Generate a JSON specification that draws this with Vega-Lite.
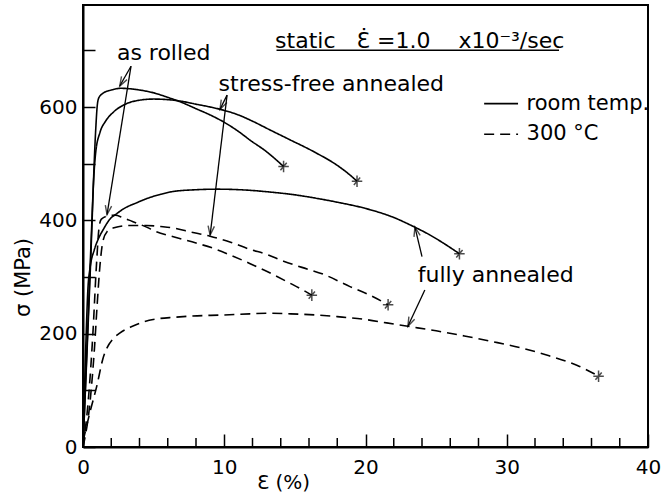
{
  "$schema": "https://vega.github.io/schema/vega-lite/v6.json",
  "width": 565,
  "height": 442,
  "autosize": {"type": "none"},
  "padding": {"left": 83, "top": 5, "right": 16, "bottom": 49},
  "background": "white",
  "config": {
    "view": {"stroke": "black", "strokeWidth": 2},
    "font": "DejaVu Sans",
    "axis": {
      "domainColor": "black", "domainWidth": 2, "tickColor": "black", "tickWidth": 1.5,
      "labelColor": "black", "labelFont": "DejaVu Sans", "labelFontSize": 20,
      "titleFont": "DejaVu Sans", "titleFontSize": 20, "titleFontWeight": "normal", "titleColor": "black",
      "grid": false, "labelOverlap": false, "labelFlush": false
    }
  },
  "datasets": {
    "curves": [
      {"c":"AR_RT","t":"RT","x":0,"y":0},{"c":"AR_RT","t":"RT","x":0.5,"y":300},{"c":"AR_RT","t":"RT","x":0.9,"y":560},{"c":"AR_RT","t":"RT","x":1.0,"y":600},{"c":"AR_RT","t":"RT","x":1.1,"y":615},{"c":"AR_RT","t":"RT","x":1.4,"y":624},{"c":"AR_RT","t":"RT","x":2.0,"y":630},{"c":"AR_RT","t":"RT","x":2.7,"y":633},{"c":"AR_RT","t":"RT","x":4,"y":630},{"c":"AR_RT","t":"RT","x":5,"y":625},{"c":"AR_RT","t":"RT","x":6,"y":617},{"c":"AR_RT","t":"RT","x":7,"y":608},{"c":"AR_RT","t":"RT","x":8,"y":597},{"c":"AR_RT","t":"RT","x":9,"y":586},{"c":"AR_RT","t":"RT","x":10,"y":573},{"c":"AR_RT","t":"RT","x":11,"y":557},{"c":"AR_RT","t":"RT","x":11.8,"y":542},{"c":"AR_RT","t":"RT","x":13,"y":521},{"c":"AR_RT","t":"RT","x":14.2,"y":495},
      {"c":"SFA_RT","t":"RT","x":0,"y":0},{"c":"SFA_RT","t":"RT","x":0.4,"y":250},{"c":"SFA_RT","t":"RT","x":0.6,"y":380},{"c":"SFA_RT","t":"RT","x":0.75,"y":470},{"c":"SFA_RT","t":"RT","x":0.9,"y":520},{"c":"SFA_RT","t":"RT","x":1.2,"y":555},{"c":"SFA_RT","t":"RT","x":1.6,"y":575},{"c":"SFA_RT","t":"RT","x":2.2,"y":592},{"c":"SFA_RT","t":"RT","x":3,"y":605},{"c":"SFA_RT","t":"RT","x":4,"y":612},{"c":"SFA_RT","t":"RT","x":5,"y":614},{"c":"SFA_RT","t":"RT","x":6,"y":613},{"c":"SFA_RT","t":"RT","x":7,"y":610},{"c":"SFA_RT","t":"RT","x":8,"y":605},{"c":"SFA_RT","t":"RT","x":9,"y":600},{"c":"SFA_RT","t":"RT","x":10,"y":594},{"c":"SFA_RT","t":"RT","x":11,"y":586},{"c":"SFA_RT","t":"RT","x":12,"y":575},{"c":"SFA_RT","t":"RT","x":13.2,"y":560},{"c":"SFA_RT","t":"RT","x":14.5,"y":544},{"c":"SFA_RT","t":"RT","x":16.5,"y":519},{"c":"SFA_RT","t":"RT","x":18,"y":497},{"c":"SFA_RT","t":"RT","x":18.9,"y":480},{"c":"SFA_RT","t":"RT","x":19.4,"y":469},
      {"c":"FA_RT","t":"RT","x":0,"y":0},{"c":"FA_RT","t":"RT","x":0.2,"y":180},{"c":"FA_RT","t":"RT","x":0.35,"y":280},{"c":"FA_RT","t":"RT","x":0.5,"y":316},{"c":"FA_RT","t":"RT","x":0.8,"y":348},{"c":"FA_RT","t":"RT","x":1.1,"y":368},{"c":"FA_RT","t":"RT","x":1.44,"y":384},{"c":"FA_RT","t":"RT","x":1.9,"y":402},{"c":"FA_RT","t":"RT","x":2.4,"y":412},{"c":"FA_RT","t":"RT","x":2.85,"y":420},{"c":"FA_RT","t":"RT","x":3.8,"y":431},{"c":"FA_RT","t":"RT","x":4.7,"y":440},{"c":"FA_RT","t":"RT","x":5.5,"y":446},{"c":"FA_RT","t":"RT","x":6.4,"y":451},{"c":"FA_RT","t":"RT","x":8,"y":454},{"c":"FA_RT","t":"RT","x":9.5,"y":455},{"c":"FA_RT","t":"RT","x":11.8,"y":453},{"c":"FA_RT","t":"RT","x":13.2,"y":450},{"c":"FA_RT","t":"RT","x":15,"y":445},{"c":"FA_RT","t":"RT","x":16.5,"y":439},{"c":"FA_RT","t":"RT","x":18,"y":432},{"c":"FA_RT","t":"RT","x":20,"y":421},{"c":"FA_RT","t":"RT","x":22,"y":405},{"c":"FA_RT","t":"RT","x":23.4,"y":389},{"c":"FA_RT","t":"RT","x":24.5,"y":375},{"c":"FA_RT","t":"RT","x":25.5,"y":360},{"c":"FA_RT","t":"RT","x":26.65,"y":341},
      {"c":"AR_300","t":"300","x":0,"y":0},{"c":"AR_300","t":"300","x":0.4,"y":90},{"c":"AR_300","t":"300","x":0.7,"y":200},{"c":"AR_300","t":"300","x":0.95,"y":320},{"c":"AR_300","t":"300","x":1.15,"y":390},{"c":"AR_300","t":"300","x":1.3,"y":402},{"c":"AR_300","t":"300","x":1.8,"y":408},{"c":"AR_300","t":"300","x":2.3,"y":409},{"c":"AR_300","t":"300","x":2.8,"y":405},{"c":"AR_300","t":"300","x":3.5,"y":398},{"c":"AR_300","t":"300","x":4.5,"y":388},{"c":"AR_300","t":"300","x":5.2,"y":380},{"c":"AR_300","t":"300","x":6.4,"y":371},{"c":"AR_300","t":"300","x":8,"y":360},{"c":"AR_300","t":"300","x":9.3,"y":350},{"c":"AR_300","t":"300","x":10.5,"y":338},{"c":"AR_300","t":"300","x":11.8,"y":324},{"c":"AR_300","t":"300","x":13,"y":310},{"c":"AR_300","t":"300","x":14.66,"y":289},{"c":"AR_300","t":"300","x":15.5,"y":278},{"c":"AR_300","t":"300","x":16.2,"y":268},
      {"c":"SFA_300","t":"300","x":0,"y":0},{"c":"SFA_300","t":"300","x":0.5,"y":80},{"c":"SFA_300","t":"300","x":0.8,"y":170},{"c":"SFA_300","t":"300","x":1.0,"y":250},{"c":"SFA_300","t":"300","x":1.2,"y":320},{"c":"SFA_300","t":"300","x":1.4,"y":362},{"c":"SFA_300","t":"300","x":1.7,"y":380},{"c":"SFA_300","t":"300","x":2.2,"y":387},{"c":"SFA_300","t":"300","x":3.3,"y":391},{"c":"SFA_300","t":"300","x":4.5,"y":391},{"c":"SFA_300","t":"300","x":5.5,"y":389},{"c":"SFA_300","t":"300","x":6.5,"y":386},{"c":"SFA_300","t":"300","x":7.5,"y":380},{"c":"SFA_300","t":"300","x":9,"y":372},{"c":"SFA_300","t":"300","x":10.5,"y":361},{"c":"SFA_300","t":"300","x":11.8,"y":349},{"c":"SFA_300","t":"300","x":13,"y":340},{"c":"SFA_300","t":"300","x":14.2,"y":328},{"c":"SFA_300","t":"300","x":15.5,"y":317},{"c":"SFA_300","t":"300","x":17,"y":305},{"c":"SFA_300","t":"300","x":18.9,"y":283},{"c":"SFA_300","t":"300","x":20.3,"y":268},{"c":"SFA_300","t":"300","x":21.6,"y":251},
      {"c":"FA_300","t":"300","x":0,"y":10},{"c":"FA_300","t":"300","x":0.5,"y":62},{"c":"FA_300","t":"300","x":1.0,"y":110},{"c":"FA_300","t":"300","x":1.4,"y":155},{"c":"FA_300","t":"300","x":1.7,"y":175},{"c":"FA_300","t":"300","x":2.1,"y":190},{"c":"FA_300","t":"300","x":2.6,"y":201},{"c":"FA_300","t":"300","x":3.5,"y":213},{"c":"FA_300","t":"300","x":4.3,"y":221},{"c":"FA_300","t":"300","x":5.2,"y":226},{"c":"FA_300","t":"300","x":6.5,"y":229},{"c":"FA_300","t":"300","x":7.6,"y":231},{"c":"FA_300","t":"300","x":10,"y":233},{"c":"FA_300","t":"300","x":11.8,"y":235},{"c":"FA_300","t":"300","x":13,"y":236},{"c":"FA_300","t":"300","x":14.7,"y":235},{"c":"FA_300","t":"300","x":16.5,"y":233},{"c":"FA_300","t":"300","x":18,"y":230},{"c":"FA_300","t":"300","x":20,"y":225},{"c":"FA_300","t":"300","x":21.5,"y":219},{"c":"FA_300","t":"300","x":23,"y":213},{"c":"FA_300","t":"300","x":25,"y":205},{"c":"FA_300","t":"300","x":27,"y":196},{"c":"FA_300","t":"300","x":29,"y":186},{"c":"FA_300","t":"300","x":31,"y":175},{"c":"FA_300","t":"300","x":33,"y":161},{"c":"FA_300","t":"300","x":35,"y":144},{"c":"FA_300","t":"300","x":36.5,"y":125}
    ],
    "ends": [
      {"x":14.2,"y":495},{"x":19.4,"y":469},{"x":26.65,"y":341},{"x":16.2,"y":268},{"x":21.6,"y":251},{"x":36.5,"y":125}
    ],
    "minorX": [{"x":2},{"x":4},{"x":6},{"x":8},{"x":12},{"x":14},{"x":16},{"x":18},{"x":22},{"x":24},{"x":26},{"x":28},{"x":32},{"x":34},{"x":36},{"x":38}],
    "legendLines": [
      {"c":"L_RT","t":"RT","x":28.4,"y":606},{"c":"L_RT","t":"RT","x":30.8,"y":606},
      {"c":"L_300","t":"300","x":28.4,"y":552},{"c":"L_300","t":"300","x":30.8,"y":552}
    ],
    "labels": [
      {"text":"as rolled","x":2.4,"y":695,"s":"big"},
      {"text":"stress-free annealed","x":9.6,"y":641,"s":"big"},
      {"text":"fully annealed","x":23.7,"y":303,"s":"big"},
      {"text":"static\u00a0\u00a0\u00a0Ɛ̇ =1.0\u00a0\u00a0\u00a0\u00a0x10⁻³/sec","x":13.6,"y":717,"s":"big"},
      {"text":"room temp.","x":31.4,"y":606,"s":"small"},
      {"text":"300 °C","x":31.4,"y":552,"s":"small"}
    ],
    "underline": [{"x":13.7,"y":700,"x2":33.7,"y2":700}],
    "arrows": [
      {"x":3.4,"y":672,"x2":2.6,"y2":637},
      {"x":3.4,"y":672,"x2":1.7,"y2":410},
      {"x":10.2,"y":621,"x2":9.7,"y2":596},
      {"x":10.2,"y":621,"x2":9.0,"y2":374},
      {"x":24.0,"y":336,"x2":23.5,"y2":388},
      {"x":24.2,"y":277,"x2":23.0,"y2":213}
    ]
  },
  "layer": [
    {
      "data": {"name": "curves"},
      "mark": {"type": "line", "color": "black", "strokeWidth": 1.6, "interpolate": "monotone"},
      "encoding": {
        "x": {"field": "x", "type": "quantitative", "scale": {"domain": [0, 40], "nice": false},
          "axis": {"values": [0,10,20,30,40],
            "labelOverlap": false, "labelFlush": false,
            "tickSize": -13, "labelPadding": 23,
            "title": "Ɛ (%)", "titleX": 200, "titleY": 35, "titleAlign": "center", "titleBaseline": "middle"}},
        "y": {"field": "y", "type": "quantitative", "scale": {"domain": [0, 780], "nice": false},
          "axis": {"values": [0,100,200,300,400,500,600,700],
            "labelExpr": "datum.value % 200 === 0 ? datum.label : ''",
            "labelOverlap": false, "labelFlush": false,
            "tickSize": -12, "labelPadding": 18,
            "title": "σ (MPa)", "titleX": -60, "titleY": 272, "titleAngle": -90, "titleAlign": "center", "titleBaseline": "middle", "titleFontSize": 21}},
        "detail": {"field": "c"},
        "strokeDash": {"field": "t", "type": "nominal", "scale": {"domain": ["RT", "300"], "range": [[1, 0], [10, 6]]}, "legend": null}
      }
    },
    {
      "data": {"name": "minorX"},
      "mark": {"type": "rule", "color": "black", "strokeWidth": 1.5},
      "encoding": {
        "x": {"field": "x", "type": "quantitative"},
        "y": {"datum": 0, "type": "quantitative"},
        "y2": {"datum": 16}
      }
    },
    {
      "data": {"name": "legendLines"},
      "mark": {"type": "line", "color": "black", "strokeWidth": 1.6},
      "encoding": {
        "x": {"field": "x", "type": "quantitative"},
        "y": {"field": "y", "type": "quantitative"},
        "detail": {"field": "c"},
        "strokeDash": {"field": "t", "type": "nominal", "scale": {"domain": ["RT", "300"], "range": [[1, 0], [10, 6]]}, "legend": null}
      }
    },
    {
      "data": {"name": "ends"},
      "mark": {"type": "point", "shape": "M-1,0L1,0M0,-1.1L0,1.1M-0.6,0.7L0.6,-0.7", "filled": false, "color": "black", "strokeWidth": 1.5, "size": 110},
      "encoding": {
        "x": {"field": "x", "type": "quantitative"},
        "y": {"field": "y", "type": "quantitative"}
      }
    },
    {
      "data": {"name": "arrows"},
      "mark": {"type": "rule", "color": "black", "strokeWidth": 1.3},
      "encoding": {
        "x": {"field": "x", "type": "quantitative"},
        "y": {"field": "y", "type": "quantitative"},
        "x2": {"field": "x2"},
        "y2": {"field": "y2"}
      }
    },
    {
      "data": {"name": "arrows"},
      "transform": [{"calculate": "atan2((datum.x2 - datum.x) * 14.125, (datum.y2 - datum.y) * 0.5667) * 180 / PI", "as": "ang"}],
      "mark": {"type": "point", "shape": "M-0.45,1.3L0,0L0.45,1.3", "filled": false, "color": "black", "strokeWidth": 1.4, "size": 200},
      "encoding": {
        "x": {"field": "x2", "type": "quantitative"},
        "y": {"field": "y2", "type": "quantitative"},
        "angle": {"field": "ang", "type": "quantitative", "scale": null}
      }
    },
    {
      "data": {"name": "underline"},
      "mark": {"type": "rule", "color": "black", "strokeWidth": 1.5},
      "encoding": {
        "x": {"field": "x", "type": "quantitative"},
        "y": {"field": "y", "type": "quantitative"},
        "x2": {"field": "x2"},
        "y2": {"field": "y2"}
      }
    },
    {
      "data": {"name": "labels"},
      "mark": {"type": "text", "align": "left", "baseline": "middle", "font": "DejaVu Sans", "color": "black"},
      "encoding": {
        "x": {"field": "x", "type": "quantitative"},
        "y": {"field": "y", "type": "quantitative"},
        "text": {"field": "text"},
        "size": {"field": "s", "type": "nominal", "scale": {"domain": ["big", "small"], "range": [22, 21]}, "legend": null}
      }
    }
  ]
}
